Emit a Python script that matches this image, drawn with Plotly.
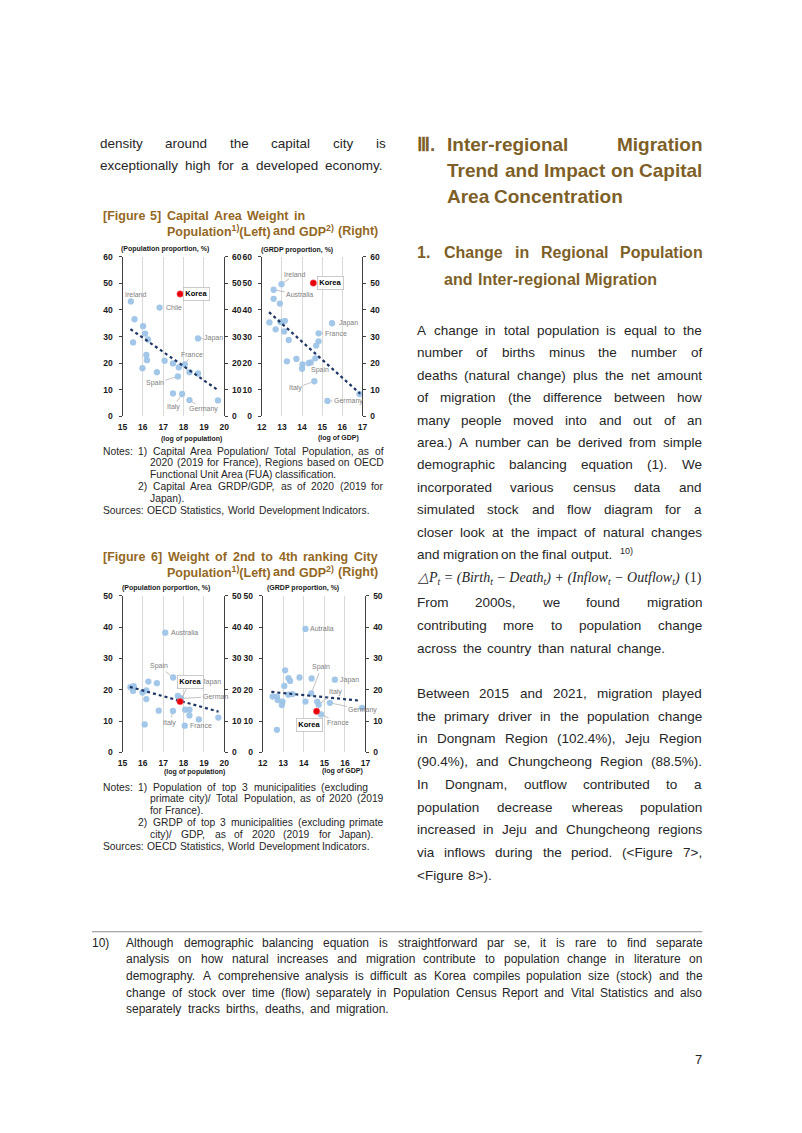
import re
import plotly.graph_objects as go

# ======================= DATA =======================
# Figure 5 left: capital-area share of population (%) vs log of population
f5l_x = [15.41, 15.59, 15.52, 16.01, 16.11, 16.25, 16.17, 16.20, 15.98, 16.69, 17.07, 16.82,
         17.83, 17.48, 17.72, 17.77, 18.06, 18.29, 18.71, 18.71, 17.48, 17.93, 18.29, 19.69]
f5l_y = [43.2, 36.5, 27.8, 33.9, 31.1, 28.9, 23.1, 21.1, 18.1, 16.6, 20.9, 40.9,
         46.0, 19.9, 15.0, 18.4, 19.5, 16.6, 29.3, 16.1, 8.6, 8.4, 6.1, 6.0]
f5l_lab = ['Ireland', '', '', '', '', '', '', '', '', '', '', 'Chile',
           'Korea', '', 'Spain', '', 'France', '', 'Japan', '', '', 'Italy', 'Germany', '']
f5l_trend_x = [15.39, 19.72]
f5l_trend_y = [32.8, 9.7]

# Figure 5 right: capital-area share of GDP (%) vs log of GDP
f5r_x = [12.98, 12.59, 12.59, 12.90, 12.38, 12.69, 12.93, 13.15, 13.11, 13.34, 13.25, 13.72,
         14.02, 14.00, 14.33, 14.43, 14.66, 14.70, 14.82, 14.82, 15.49, 14.56, 14.61, 15.26, 16.85]
f5r_y = [49.7, 47.6, 44.2, 42.4, 35.3, 32.7, 35.5, 35.9, 31.9, 28.7, 20.7, 21.6,
         19.5, 17.9, 20.0, 20.3, 21.8, 26.6, 28.2, 31.2, 35.0, 50.1, 13.2, 5.8, 8.4]
f5r_lab = ['Ireland', 'Australia', '', '', '', '', '', '', '', '', '', '',
           '', '', '', 'Spain', '', '', '', 'France', 'Japan', 'Korea', 'Italy', 'Germany', '']
f5r_trend_x = [12.36, 16.89]
f5r_trend_y = [39.2, 8.5]

# Figure 6 left: 2nd-4th city share of population (%) vs log of population
f6l_x = [17.10, 15.39, 15.55, 15.52, 15.98, 16.17, 16.17, 16.27, 16.69, 17.49, 17.72, 17.77,
         17.83, 17.88, 17.48, 16.78, 16.09, 18.06, 18.08, 18.29, 18.29, 18.75, 19.71]
f6l_y = [38.2, 20.8, 21.1, 19.6, 19.1, 19.8, 17.0, 22.6, 22.1, 23.9, 18.0, 16.6,
         16.2, 17.2, 13.2, 13.3, 8.9, 8.5, 13.6, 13.6, 11.8, 10.5, 11.1]
f6l_lab = ['Australia', '', '', '', '', '', '', '', '', 'Spain', 'Japan', '',
           'Korea', 'German', 'Italy', '', '', 'France', '', '', '', '', '']
f6l_trend_x = [15.36, 19.72]
f6l_trend_y = [20.9, 13.0]

# Figure 6 right: 2nd-4th city share of GDP (%) vs log of GDP
f6r_x = [14.08, 13.09, 13.25, 13.33, 13.79, 14.38, 13.05, 12.48, 12.69, 12.73, 12.96, 12.93,
         13.25, 13.45, 14.08, 14.36, 14.65, 14.72, 14.84, 14.62, 15.27, 15.51, 16.84, 12.69]
f6r_y = [39.4, 26.2, 23.7, 22.8, 23.9, 23.6, 21.2, 17.8, 17.8, 16.7, 16.2, 15.1,
         18.4, 18.6, 16.2, 18.8, 16.2, 15.2, 12.1, 13.1, 15.8, 23.2, 14.2, 7.2]
f6r_lab = ['Autralia', '', '', '', '', '', '', '', '', '', '', '',
           '', '', '', 'Spain', '', 'Italy', 'France', 'Korea', 'Germany', 'Japan', '', '']
f6r_trend_x = [12.42, 16.73]
f6r_trend_y = [19.3, 16.5]

pop_ticks = [15, 16, 17, 18, 19, 20]
gdp_ticks = [12, 13, 14, 15, 16, 17]
share_ticks5 = [0, 10, 20, 30, 40, 50, 60]
share_ticks6 = [0, 10, 20, 30, 40, 50]

# ======================= TEXT =======================
left_intro = ["density around the capital city is",
              "exceptionally high for a developed economy."]
fig5_title = ["[Figure 5] Capital Area Weight in",
              "Population<sup>1)</sup>(Left) and GDP<sup>2)</sup> (Right)"]
fig6_title = ["[Figure 6] Weight of 2nd to 4th ranking City",
              "Population<sup>1)</sup>(Left) and GDP<sup>2)</sup> (Right)"]
fig5_notes = ["Notes: 1) Capital Area Population/ Total Population, as of",
              "2020 (2019 for France), Regions based on OECD",
              "Functional Unit Area (FUA) classification.",
              "2) Capital Area GRDP/GDP, as of 2020 (2019 for",
              "Japan).",
              "Sources: OECD Statistics, World Development Indicators."]
fig6_notes = ["Notes: 1) Population of top 3 municipalities (excluding",
              "primate city)/ Total Population, as of 2020 (2019",
              "for France).",
              "2) GRDP of top 3 municipalities (excluding primate",
              "city)/ GDP, as of 2020 (2019 for Japan).",
              "Sources: OECD Statistics, World Development Indicators."]
para1 = ["A change in total population is equal to the",
         "number of births minus the number of",
         "deaths (natural change) plus the net amount",
         "of migration (the difference between how",
         "many people moved into and out of an",
         "area.) A number can be derived from simple",
         "demographic balancing equation (1). We",
         "incorporated various census data and",
         "simulated stock and flow diagram for a",
         "closer look at the impact of natural changes",
         "and migration on the  final output."]
para1b = ["From 2000s, we found migration",
          "contributing more to population change",
          "across the country than natural change."]
para2 = ["Between 2015 and 2021, migration played",
         "the primary driver in the population change",
         "in Dongnam Region (102.4%), Jeju Region",
         "(90.4%), and Chungcheong Region (88.5%).",
         "In Dongnam, outflow contributed to a",
         "population decrease whereas population",
         "increased in Jeju and Chungcheong regions",
         "via inflows during the period. (<Figure 7>,",
         "<Figure 8>)."]
footnote = ["Although demographic balancing equation is straightforward par se, it is rare to find separate",
            "analysis on how natural increases and migration contribute to population change in literature on",
            "demography. A comprehensive analysis is difficult as Korea compiles population size (stock) and the",
            "change of stock over time (flow) separately in Population Census Report and Vital Statistics and also",
            "separately tracks births, deaths, and migration."]

# ======================= STYLE / LAYOUT =======================
W, H = 802, 1133
FONT = "Liberation Sans"
SERIF = "Liberation Serif"
BODY = "#262626"
HEAD = "#7d5f27"
FIGT = "#94681f"


def px(x):
    return x / W


def py(y):
    return 1 - y / H


REG = dict(zip(" abcdefghijklmnopqrstuvwxyz",
               [278, 556, 556, 500, 556, 556, 278, 556, 556, 222, 222, 500, 222, 833, 556, 556, 556, 556,
                333, 500, 278, 556, 500, 722, 500, 500, 500]))
REG.update(zip("ABCDEFGHIJKLMNOPQRSTUVWXYZ",
               [667, 667, 722, 722, 667, 611, 778, 722, 278, 500, 667, 556, 833, 722, 778, 667, 778, 722,
                667, 611, 722, 667, 944, 667, 667, 611]))
REG.update({d: 556 for d in "0123456789"})
REG.update({'.': 278, ',': 278, '(': 333, ')': 333, '-': 333, '/': 278, '%': 889, '<': 584, '>': 584,
            ':': 278, ';': 278, '[': 278, ']': 278, "'": 191})
BLD = dict(zip(" abcdefghijklmnopqrstuvwxyz",
               [278, 556, 611, 556, 611, 556, 333, 611, 611, 278, 278, 556, 278, 889, 611, 611, 611, 611,
                389, 556, 333, 611, 556, 778, 556, 556, 500]))
BLD.update(zip("ABCDEFGHIJKLMNOPQRSTUVWXYZ",
               [722, 722, 722, 722, 667, 611, 778, 722, 278, 556, 722, 611, 833, 722, 778, 667, 778, 722,
                667, 611, 722, 667, 944, 667, 667, 611]))
BLD.update({d: 556 for d in "0123456789"})
BLD.update({'.': 278, ',': 278, '(': 333, ')': 333, '-': 333, '/': 278, '%': 889, '<': 584, '>': 584,
            ':': 333, ';': 333, '[': 333, ']': 333})

TAG = re.compile(r'(</?su[pb]>)')


def tw(s, size, bold=False):
    tbl = BLD if bold else REG
    w, sc = 0.0, 1.0
    for tok in TAG.split(s):
        if TAG.fullmatch(tok):
            sc = 1.0 if tok.startswith('</') else 0.7
            continue
        for ch in tok:
            w += tbl.get(ch, 556) * sc
    return w * size / 1000.0


def esc(s):
    out = []
    for tok in TAG.split(s):
        if TAG.fullmatch(tok):
            out.append(tok)
        else:
            out.append(tok.replace('&', '&amp;').replace('<', '&lt;').replace('>', '&gt;'))
    return ''.join(out)


anns = []


def vadj(size):
    return -0.15 * size if size >= 13 else 0.0


def add_line(text, x0, y, size, bold=False, color=BODY, x1=None):
    words = [w for w in text.split(' ') if w]
    sp = (BLD if bold else REG)[' ']
    widths = [tw(w, size, bold) for w in words]
    if x1 is None or len(words) < 2:
        gap = sp * size / 1000.0
    else:
        min_gap = 0.75 * sp * size / 1000.0
        need = sum(widths) + (len(words) - 1) * min_gap
        if need > x1 - x0:
            size = size * (x1 - x0) / need
            widths = [tw(w, size, bold) for w in words]
        gap = (x1 - x0 - sum(widths)) / (len(words) - 1)
    x = x0
    yy = y + vadj(size)
    for w, wd in zip(words, widths):
        t = esc(w)
        if bold:
            t = '<b>' + t + '</b>'
        anns.append(dict(text=t, x=px(x), y=py(yy), xref='paper', yref='paper', xanchor='left',
                         yanchor='middle', showarrow=False, borderpad=0, borderwidth=0,
                         font=dict(family=FONT, size=size, color=color)))
        x += wd + gap


def add_text(text, x, y, size, color=BODY, xanchor='left', family=FONT):
    anns.append(dict(text=text, x=px(x), y=py(y + vadj(size)), xref='paper', yref='paper', xanchor=xanchor,
                     yanchor='middle', showarrow=False, borderpad=0, borderwidth=0,
                     font=dict(family=family, size=size, color=color)))


# ---- left column text ----
add_line(left_intro[0], 96.5, 141.5, 13.5, x1=385)
add_line(left_intro[1], 96.5, 164, 13.5, x1=383)

for title, y0, e1 in ((fig5_title, 213, 304), (fig6_title, 557, 377)):
    add_line(title[0], 99, y0, 12.5, bold=True, color=FIGT, x1=e1)
    add_line(title[1], 164, y0 + 15.5, 12.5, bold=True, color=FIGT, x1=377)

NS = 10.3
for lines, y0, spec in (
        (fig5_notes, 450, [(99, 383), (147, 383), (147, None), (135, 383), (147, None), (99, 369)]),
        (fig6_notes, 789, [(99, 367), (147, 383), (147, None), (135, 383), (147, 373), (99, 369)])):
    for i, (ln, (a, b)) in enumerate(zip(lines, spec)):
        add_line(ln, a, y0 + i * 12.0, NS, x1=b)

# ---- right column text ----
add_text("<b>Ⅲ.</b>", 417, 144, 19, color=HEAD)
add_line("Inter-regional Migration", 448, 144, 19, bold=True, color=HEAD, x1=705.5)
add_line("Trend and Impact on Capital", 448, 170, 19, bold=True, color=HEAD, x1=705.5)
add_line("Area Concentration", 448, 196.5, 19, bold=True, color=HEAD)
add_text("<b>1.</b>", 417, 252, 16, color=HEAD)
add_line("Change in Regional Population", 445, 252, 16, bold=True, color=HEAD, x1=705.5)
add_line("and Inter-regional Migration", 445, 279, 16, bold=True, color=HEAD, x1=659)

BS = 13.5
for i, ln in enumerate(para1):
    add_line(ln, 417, 330.5 + 22.6 * i, BS, x1=(705.5 if i < len(para1) - 1 else 614))
add_text("10)", 623, 551, 9)
add_text("<i>△P<sub>t</sub> = (Birth<sub>t</sub> − Death<sub>t</sub>) + (Inflow<sub>t</sub> − Outflow<sub>t</sub>)</i>",
         417, 580.5, 14, family=SERIF)
add_text("(1)", 706, 580.5, 14, xanchor='right', family=SERIF)
for i, ln in enumerate(para1b):
    add_line(ln, 417, 605 + 23.2 * i, BS, x1=(705.5 if i < 2 else 668))
for i, ln in enumerate(para2):
    add_line(ln, 417, 696.7 + 22.9 * i, BS, x1=(705.5 if i < len(para2) - 1 else 492))

# ---- footnote ----
FS = 12
add_text("10)", 88, 946, FS)
for i, ln in enumerate(footnote):
    add_line(ln, 123, 946 + 16.8 * i, FS, x1=(706 if i < 4 else 388))
add_text("7", 702, 1066, 13, xanchor='center')

# ======================= CHARTS =======================
panels = [
    # x data, y data, labels, trend x, trend y, x ticks, y ticks, pixel box (x0, x1, ytop, ybottom)
    (f5l_x, f5l_y, f5l_lab, f5l_trend_x, f5l_trend_y, pop_ticks, share_ticks5, (119, 222, 254, 415)),
    (f5r_x, f5r_y, f5r_lab, f5r_trend_x, f5r_trend_y, gdp_ticks, share_ticks5, (260, 362, 254, 415)),
    (f6l_x, f6l_y, f6l_lab, f6l_trend_x, f6l_trend_y, pop_ticks, share_ticks6, (119, 222, 596, 754)),
    (f6r_x, f6r_y, f6r_lab, f6r_trend_x, f6r_trend_y, gdp_ticks, share_ticks6, (261, 365, 596, 754)),
]

# label offsets (pixels from point to label centre) and leader-line flag
offsets = [
    {'Ireland': (5, -7, False), 'Chile': (14, 0, False), 'Korea': (16, 0, False), 'Japan': (16, 0, True),
     'France': (7, -10, True), 'Spain': (-23, 7, True), 'Italy': (-9, 13, True), 'Germany': (14, 9, True)},
    {'Ireland': (14, -10, True), 'Australia': (26, 5, True), 'Korea': (17, 0, False), 'Japan': (16, 0, False),
     'France': (17, 0, True), 'Spain': (9, 8, True), 'Italy': (-19, 7, True), 'Germany': (21, 0, True)},
    {'Australia': (19, 0, False), 'Spain': (-14, -11, True), 'Korea': (10, -20, True), 'Japan': (34, -14, False),
     'German': (34, -2, True), 'Italy': (-3, 12, True), 'France': (16, 0, False)},
    {'Autralia': (17, 0, False), 'Spain': (10, -26, True), 'Japan': (15, 0, False), 'Italy': (17, -13, True),
     'Germany': (33, 7, True), 'France': (17, 8, True), 'Korea': (-7, 14, False)},
]

fig = go.Figure()
BLUE = 'rgba(155,194,230,0.92)'
TICKF = dict(family=FONT, size=8.5, color='#1a1a1a', weight='bold')

for k, (xs, ys, labs, tx, ty, xt, yt, box) in enumerate(panels):
    n = k + 1
    xa = 'x' if n == 1 else 'x%d' % n
    ya = 'y' if n == 1 else 'y%d' % n
    yr = 'y%d' % (n + 4)
    bx = [x for x, l in zip(xs, labs) if l != 'Korea']
    by = [y for y, l in zip(ys, labs) if l != 'Korea']
    kx = [x for x, l in zip(xs, labs) if l == 'Korea']
    ky = [y for y, l in zip(ys, labs) if l == 'Korea']
    fig.add_trace(go.Scatter(x=bx, y=by, mode='markers', xaxis=xa, yaxis=ya, showlegend=False,
                             marker=dict(size=6.3, color=BLUE, line=dict(width=0)), hoverinfo='skip'))
    fig.add_trace(go.Scatter(x=tx, y=ty, mode='lines', xaxis=xa, yaxis=ya, showlegend=False,
                             line=dict(color='#1f3764', width=2.2, dash='dot'), hoverinfo='skip'))
    fig.add_trace(go.Scatter(x=kx, y=ky, mode='markers', xaxis=xa, yaxis=ya, showlegend=False,
                             marker=dict(size=6.5, color='#e8000b', line=dict(width=0.8, color='rgba(255,120,120,0.7)')),
                             hoverinfo='skip'))
    fig.add_trace(go.Scatter(x=[None], y=[None], xaxis=xa, yaxis=yr, showlegend=False, hoverinfo='skip'))

    x0, x1, yt0, yb0 = box
    xdom = [px(x0), px(x1)]
    ydom = [py(yb0), py(yt0)]
    xkey = 'xaxis' if n == 1 else 'xaxis%d' % n
    ykey = 'yaxis' if n == 1 else 'yaxis%d' % n
    fig.layout[xkey] = dict(domain=xdom, range=[xt[0], xt[-1]], tickvals=xt, anchor=ya, showgrid=True,
                            gridcolor='#d9d9d9', gridwidth=1, zeroline=False, showline=False, ticks='',
                            tickfont=TICKF, ticklabelstandoff=4)
    fig.layout[ykey] = dict(domain=ydom, range=[yt[0], yt[-1]], tickvals=yt, anchor=xa, showgrid=False,
                            zeroline=False, showline=True, linecolor='#404040', linewidth=1, ticks='outside',
                            ticklen=3, tickcolor='#404040', tickfont=TICKF, ticklabelstandoff=4)
    fig.layout['yaxis%d' % (n + 4)] = dict(overlaying=ya, side='right', anchor=xa, range=[yt[0], yt[-1]],
                                           tickvals=yt, showgrid=False, zeroline=False, showline=True,
                                           linecolor='#404040', linewidth=1, ticks='outside', ticklen=3,
                                           tickcolor='#404040', tickfont=TICKF, ticklabelstandoff=2)

    for x, y, lab in zip(xs, ys, labs):
        if not lab:
            continue
        ax, ay, lead = offsets[k][lab]
        a = dict(x=x, y=y, xref=xa, yref=ya, showarrow=True, ax=ax, ay=ay, arrowhead=0, arrowwidth=0.7,
                 arrowcolor=('#a6a6a6' if lead else 'rgba(0,0,0,0)'), standoff=3, startstandoff=1)
        if lab == 'Korea':
            a.update(text='<b>Korea</b>', font=dict(family=FONT, size=7.5, color='#000000'),
                     bordercolor='#bfbfbf', borderwidth=0.8, borderpad=1.5, bgcolor='white')
        else:
            a.update(text=lab, font=dict(family=FONT, size=7, color='#808080'), borderpad=0)
        anns.append(a)

# axis captions
for txt, x, y in (("(Population proportion, %)", 117, 246), ("(GRDP proportion, %)", 259, 247),
                  ("(log of population)", 158, 438), ("(log of GDP)", 317, 437),
                  ("(Population porportion, %)", 118, 588), ("(GRDP proportion, %)", 265, 588),
                  ("(log of population)", 161, 774), ("(log of GDP)", 321, 773)):
    add_text("<b>" + txt + "</b>", x, y, 7, color='#1a1a1a')

shapes = [dict(type='line', xref='paper', yref='paper', x0=px(88), x1=px(706), y0=py(935), y1=py(935),
               line=dict(color='#8c8c8c', width=1))]

fig.update_layout(width=W, height=H, margin=dict(l=0, r=0, t=0, b=0), paper_bgcolor='white',
                  plot_bgcolor='white', annotations=anns, shapes=shapes, showlegend=False,
                  font=dict(family=FONT, color=BODY))

fig.write_html("out.html", config={'displayModeBar': False, 'staticPlot': True},
               post_script="document.body.style.margin='0';document.body.style.overflow='hidden';")
